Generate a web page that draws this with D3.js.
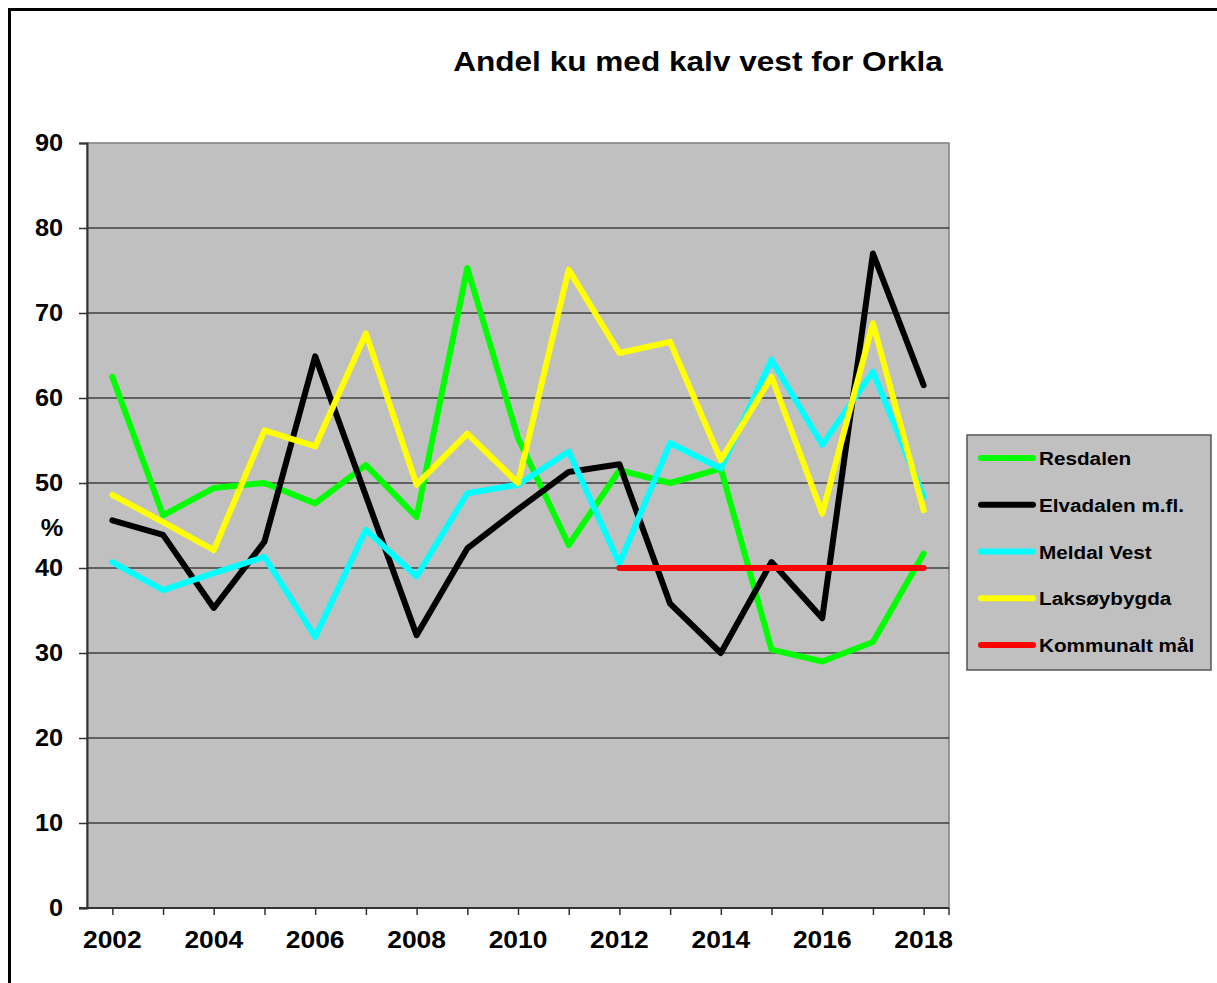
<!DOCTYPE html>
<html>
<head>
<meta charset="utf-8">
<script src="https://cdn.jsdelivr.net/npm/d3@7"></script>
<style>
  html, body { margin: 0; padding: 0; background: #ffffff; }
  svg { display: block; }
  text { font-family: "Liberation Sans", Arial, sans-serif; font-weight: bold; fill: #000; }
</style>
</head>
<body>
<script>
const years = [2002,2003,2004,2005,2006,2007,2008,2009,2010,2011,2012,2013,2014,2015,2016,2017,2018];
const yTicks = [0,10,20,30,40,50,60,70,80,90];
const xLabelYears = [2002,2004,2006,2008,2010,2012,2014,2016,2018];

const resdalen    = [62.5,46.2,49.4,50.0,47.6,52.1,46.0,75.3,55.3,42.7,51.5,50.0,51.7,30.4,29.0,31.3,41.7];
const elvadalen   = [45.6,43.9,35.3,43.1,64.9,48.5,32.1,42.3,46.9,51.3,52.2,35.8,30.0,40.7,34.1,77.0,61.5];
const meldalVest  = [40.7,37.4,39.4,41.3,31.9,44.5,39.0,48.8,49.8,53.7,40.5,54.7,51.7,64.5,54.5,63.1,48.4];
const laksoybygda = [48.6,45.4,42.1,56.2,54.3,67.6,49.8,55.8,50.0,75.1,65.3,66.6,52.7,62.5,46.4,68.8,46.8];
const kommunaltMal= [null,null,null,null,null,null,null,null,null,null,40,40,40,40,40,40,40];

const seriesNames  = ["Resdalen","Elvadalen m.fl.","Meldal Vest","Laksøybygda","Kommunalt mål"];
const seriesColors = ["#00ff00","#000000","#00ffff","#ffff00","#ff0000"];
const seriesValues = [resdalen, elvadalen, meldalVest, laksoybygda, kommunaltMal];

const W = 1217, H = 983;
const plot = {left: 87, right: 949, top: 143, bottom: 908};

const svg = d3.select("body").append("svg").attr("width", W).attr("height", H);

// outer frame
svg.append("rect").attr("x", 9.5).attr("y", 9.5).attr("width", 1400).attr("height", 1200)
  .attr("fill", "none").attr("stroke", "#000").attr("stroke-width", 3);

const x = d3.scalePoint().domain(years).range([plot.left, plot.right]).padding(0.5);
const y = d3.scaleLinear().domain([0, 90]).range([plot.bottom, plot.top]);

// plot background
svg.append("rect").attr("x", plot.left).attr("y", plot.top)
  .attr("width", plot.right - plot.left).attr("height", plot.bottom - plot.top)
  .attr("fill", "#c0c0c0").attr("stroke", "#808080").attr("stroke-width", 1.5);

// gridlines
svg.append("g").selectAll("line").data(yTicks.filter(d => d > 0 && d < 90)).join("line")
  .attr("x1", plot.left).attr("x2", plot.right)
  .attr("y1", d => y(d)).attr("y2", d => y(d))
  .attr("stroke", "#000").attr("stroke-width", 1);

// y axis
const yAxis = svg.append("g").attr("transform", `translate(${plot.left},0)`)
  .call(d3.axisLeft(y).tickValues(yTicks).tickSize(8).tickFormat(""));
yAxis.select(".domain").attr("stroke", "#333").attr("stroke-width", 2);
yAxis.selectAll(".tick line").attr("stroke", "#333").attr("stroke-width", 1.5);

svg.append("g").selectAll("text").data(yTicks).join("text")
  .attr("text-anchor", "end")
  .attr("transform", d => `translate(63,${y(d) + 8}) scale(1.1,1)`)
  .attr("font-size", 23)
  .text(d => d);

svg.append("text").attr("text-anchor", "middle")
  .attr("transform", `translate(52,536) scale(1.1,1)`)
  .attr("font-size", 23).text("%");

// x axis
const xAxis = svg.append("g").attr("transform", `translate(0,${plot.bottom})`)
  .call(d3.axisBottom(x).tickValues(years).tickSize(7).tickSizeOuter(0).tickFormat(""));
xAxis.select(".domain").attr("stroke", "#333").attr("stroke-width", 2)
  .attr("d", `M${plot.left - 8},0H${plot.right}`);
xAxis.selectAll(".tick line").attr("stroke", "#333").attr("stroke-width", 1.5);
xAxis.append("line").attr("x1", plot.right).attr("x2", plot.right).attr("y1", 0).attr("y2", 7)
  .attr("stroke", "#333").attr("stroke-width", 1.5);

svg.append("g").selectAll("text").data(xLabelYears).join("text")
  .attr("text-anchor", "middle")
  .attr("transform", d => `translate(${x(d)},948) scale(1.1,1)`)
  .attr("font-size", 24)
  .text(d => d);

// lines
const line = d3.line()
  .defined(d => d.v !== null)
  .x(d => x(d.year)).y(d => y(d.v));

seriesValues.forEach((vals, i) => {
  svg.append("path")
    .datum(years.map((yr, j) => ({year: yr, v: vals[j]})))
    .attr("d", line)
    .attr("fill", "none")
    .attr("stroke", seriesColors[i])
    .attr("stroke-width", 6)
    .attr("stroke-linejoin", "round")
    .attr("stroke-linecap", "round");
});

// title
svg.append("text").attr("text-anchor", "middle")
  .attr("transform", "translate(698,71) scale(1.17,1)")
  .attr("font-size", 27)
  .text("Andel ku med kalv vest for Orkla");

// legend
const lg = svg.append("g");
lg.append("rect").attr("x", 967).attr("y", 435).attr("width", 244).attr("height", 235)
  .attr("fill", "#c0c0c0").attr("stroke", "#555").attr("stroke-width", 1.5);
const legendY = d3.scalePoint().domain(seriesNames).range([458, 645]);
seriesNames.forEach((name, i) => {
  const ly = legendY(name);
  lg.append("line").attr("x1", 981).attr("x2", 1033).attr("y1", ly).attr("y2", ly)
    .attr("stroke", seriesColors[i]).attr("stroke-width", 6).attr("stroke-linecap", "round");
  lg.append("text").attr("transform", `translate(1039,${ly + 7}) scale(1.12,1)`)
    .attr("font-size", 18.5).text(name);
});
</script>
</body>
</html>
